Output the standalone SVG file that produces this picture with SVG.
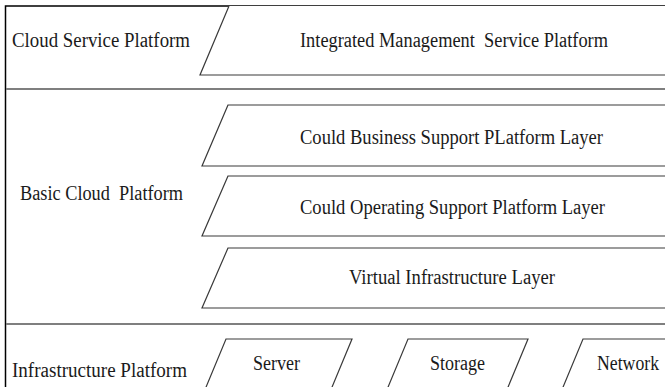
<svg xmlns="http://www.w3.org/2000/svg" width="665" height="387" viewBox="0 0 665 387">
<style>
.frame{fill:none;stroke:#000;stroke-width:1.5}
.sep{fill:none;stroke:#7f7f7f;stroke-width:2.2}
.shape{fill:#fff;stroke:#3a3a3a;stroke-width:1.2}
.lbl{font-family:"Liberation Serif","DejaVu Serif","Times New Roman",serif;font-size:20px;fill:#1a1a1a}
</style>
<rect x="0" y="0" width="665" height="387" fill="#ffffff"/>
<g id="frame">
<path class="frame" d="M5.5,387 V6 H665"/>
</g>
<g id="separators">
<line class="sep" x1="6" y1="89" x2="665" y2="89"/>
<line class="sep" x1="6" y1="324" x2="665" y2="324"/>
</g>
<g id="cloud-service">
<text class="lbl" x="12" y="47" textLength="178" lengthAdjust="spacingAndGlyphs">Cloud Service Platform</text>
</g>
<g id="integrated">
<path class="shape" d="M229,6 L200,75 H670 V6"/>
<text class="lbl" x="300" y="47" textLength="308" lengthAdjust="spacingAndGlyphs" xml:space="preserve">Integrated Management  Service Platform</text>
</g>
<g id="basic-cloud">
<text class="lbl" x="20" y="200" textLength="163" lengthAdjust="spacingAndGlyphs" xml:space="preserve">Basic Cloud  Platform</text>
</g>
<g id="business-layer">
<path class="shape" d="M228,105 L202,166 H670 V105 Z"/>
<text class="lbl" x="300" y="144" textLength="303" lengthAdjust="spacingAndGlyphs">Could Business Support PLatform Layer</text>
</g>
<g id="operating-layer">
<path class="shape" d="M228,176 L202,236 H670 V176 Z"/>
<text class="lbl" x="300" y="214" textLength="305" lengthAdjust="spacingAndGlyphs">Could Operating Support Platform Layer</text>
</g>
<g id="virtual-layer">
<path class="shape" d="M228,248 L202,308 H670 V248 Z"/>
<text class="lbl" x="349" y="284" textLength="206" lengthAdjust="spacingAndGlyphs">Virtual Infrastructure Layer</text>
</g>
<g id="infrastructure">
<text class="lbl" x="12" y="377" textLength="175" lengthAdjust="spacingAndGlyphs">Infrastructure Platform</text>
</g>
<g id="server">
<path class="shape" d="M226,339 H352 L330,392 H204 Z"/>
<text class="lbl" x="253" y="370" textLength="47" lengthAdjust="spacingAndGlyphs">Server</text>
</g>
<g id="storage">
<path class="shape" d="M408,339 H528 L506,392 H386 Z"/>
<text class="lbl" x="430" y="370" textLength="55" lengthAdjust="spacingAndGlyphs">Storage</text>
</g>
<g id="network">
<path class="shape" d="M583,339 H670 V392 H561 Z"/>
<text class="lbl" x="597" y="370" textLength="62" lengthAdjust="spacingAndGlyphs">Network</text>
</g>
</svg>
